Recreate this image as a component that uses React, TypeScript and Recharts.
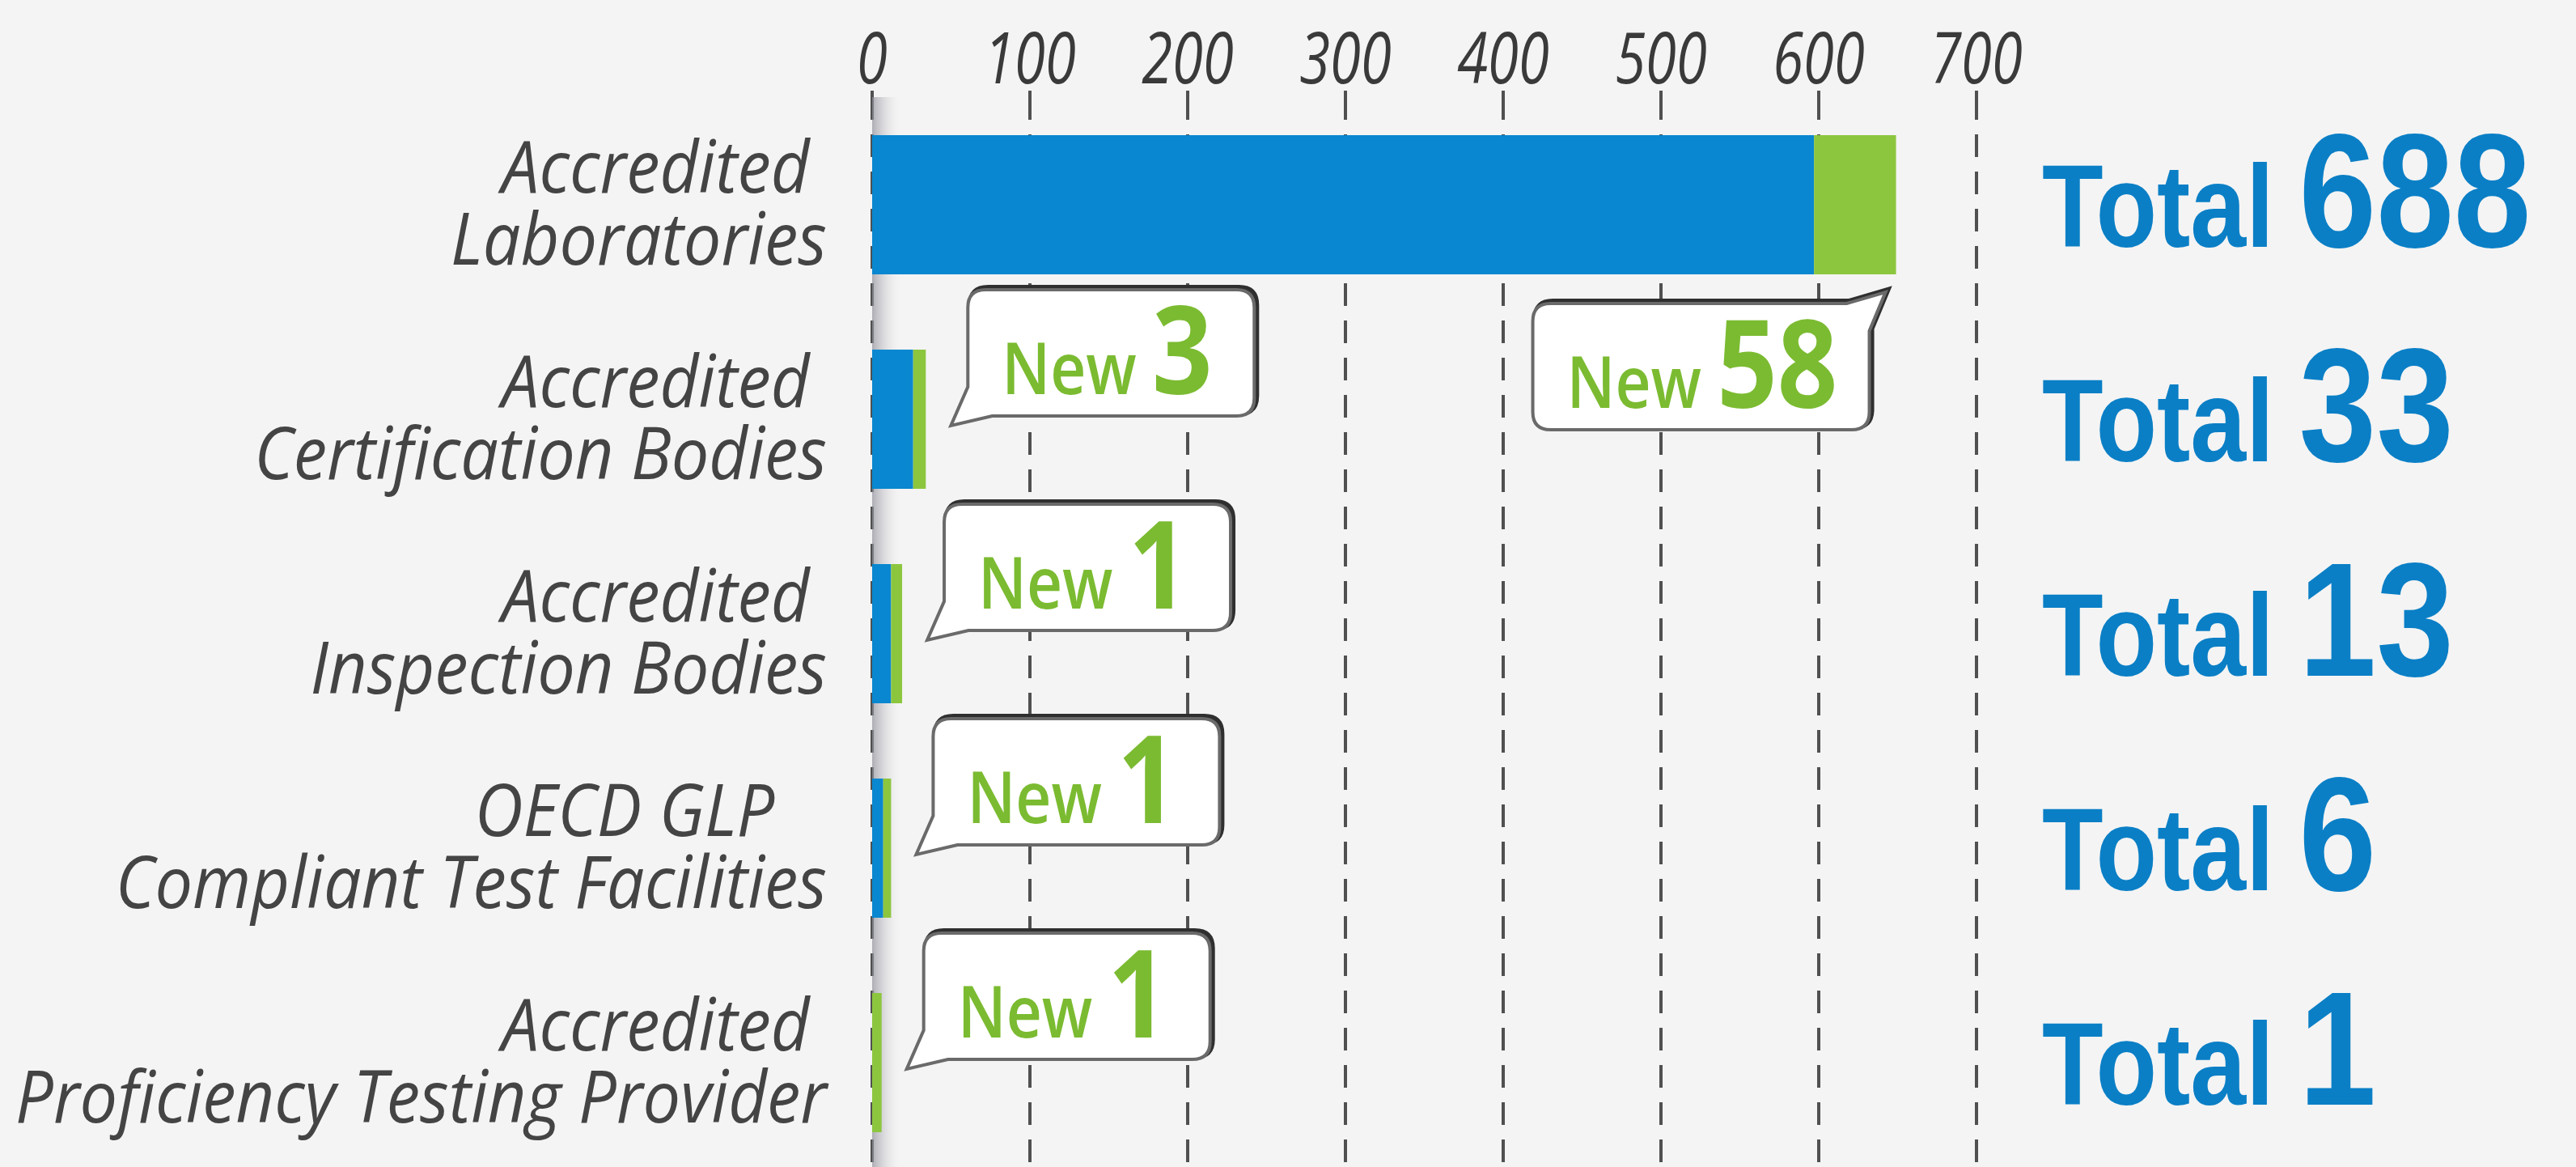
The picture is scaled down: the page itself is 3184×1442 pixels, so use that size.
import { BarChart, Bar, XAxis, YAxis, CartesianGrid, LabelList, ReferenceArea } from 'recharts';

const labelLine1 = ['Accredited\u00A0', 'Accredited\u00A0', 'Accredited\u00A0', 'OECD GLP\u00A0\u00A0\u00A0', 'Accredited\u00A0'];
const labelLine2 = [
  'Laboratories',
  'Certification Bodies',
  'Inspection Bodies',
  'Compliant Test Facilities',
  'Proficiency Testing Provider',
];
// bar lengths as drawn in the picture
const existingValues = [597, 26, 12, 7, 0];
const addedValues = [52, 8, 7, 5, 6];
// printed figures
const newLabels = [58, 3, 1, 1, 1];
const totalLabels = [688, 33, 13, 6, 1];
const xTicks = [0, 100, 200, 300, 400, 500, 600, 700];

const BLUE = '#0987d0';
const GREEN = '#8cc63f';
const TEXT_GREEN = '#7bbb31';
const TOTAL_BLUE = '#0a7fc6';

const categories = labelLine2.map((l2, i) => `${labelLine1[i].trim()} ${l2}`);

const data = categories.map((name, i) => ({
  name,
  existing: existingValues[i],
  added: addedValues[i],
  newLabel: newLabels[i],
}));

function XTick({ x, y, payload }: any) {
  return (
    <g transform={`translate(${x},${y})`}>
      <text
        transform="scale(0.78,1)"
        textAnchor="middle"
        y={-9}
        fill="#3a3a3a"
        fontFamily="'Open Sans', sans-serif"
        fontStyle="italic"
        fontSize={88}
      >
        {payload.value}
      </text>
    </g>
  );
}

function CategoryTick({ x, y, payload }: any) {
  const i = categories.indexOf(payload.value);
  return (
    <g transform={`translate(${x - 56},${y})`}>
      <text
        transform="scale(0.92,1)"
        textAnchor="end"
        fill="#444444"
        fontFamily="'Open Sans', sans-serif"
        fontStyle="italic"
        fontSize={90}
      >
        <tspan x={0} y={-15}>{labelLine1[i]}</tspan>
        <tspan x={0} y={74}>{labelLine2[i]}</tspan>
      </text>
    </g>
  );
}

function TotalTick({ x, y, payload }: any) {
  const i = categories.indexOf(payload.value);
  return (
    <g transform={`translate(${x + 81},${y + 52})`}>
      <text
        transform="scale(0.86,1)"
        textAnchor="start"
        fill={TOTAL_BLUE}
        fontFamily="'Liberation Sans', Arial, sans-serif"
        fontWeight={700}
      >
        <tspan fontSize={144}>Total</tspan>
        <tspan fontSize={200} dx={36}>{totalLabels[i]}</tspan>
      </text>
    </g>
  );
}

function renderBubble(props: any) {
  const { x, y, width, height, value, index } = props;
  const barEnd = x + width;
  const center = y + height / 2;
  const digits = String(value).length;
  const w = 292 + digits * 62;
  const h = 156;
  const r = 22;
  const flipped = index === 0;
  const L = flipped ? barEnd - 33 - w : barEnd + 52;
  const T = flipped ? center + 122 : center - 160;
  const d = flipped
    ? `M${L + r},${T} H${L + w - 28} L${L + w + 20},${T - 14} L${L + w},${T + 34} V${T + h - r} Q${L + w},${T + h} ${L + w - r},${T + h} H${L + r} Q${L},${T + h} ${L},${T + h - r} V${T + r} Q${L},${T} ${L + r},${T} Z`
    : `M${L + r},${T} H${L + w - r} Q${L + w},${T} ${L + w},${T + r} V${T + h - r} Q${L + w},${T + h} ${L + w - r},${T + h} H${L + 30} L${L - 21},${T + h + 12} L${L},${T + h - 36} V${T + r} Q${L},${T} ${L + r},${T} Z`;
  return (
    <g key={`bubble-${index}`}>
      <path d={d} transform="translate(3,-3)" fill="none" stroke="#2f2f2f" strokeWidth={6} />
      <path d={d} fill="#ffffff" stroke="#6a6a6a" strokeWidth={4} />
      <g transform={`translate(${L + 42},${T + h - 27})`}>
        <text transform="scale(0.87,1)" fill={TEXT_GREEN} fontFamily="'Open Sans', sans-serif">
          <tspan fontSize={88} fontWeight={600}>New</tspan>
          <tspan fontSize={150} fontWeight={700} dx={22}>{value}</tspan>
        </text>
      </g>
    </g>
  );
}

export default function App() {
  return (
    <div
      style={{
        position: 'absolute',
        left: 0,
        top: 0,
        width: 3184,
        height: 1442,
        overflow: 'hidden',
        background: '#f4f4f4',
      }}
    >
      <BarChart
        width={3184}
        height={1446}
        data={data}
        layout="vertical"
        margin={{ top: 10, right: 0, bottom: 1, left: 0 }}
        barCategoryGap={46}
      >
        <defs>
          <linearGradient id="fold" x1="0" y1="0" x2="1" y2="0">
            <stop offset="0" stopColor="#8f8f9a" stopOpacity={0.7} />
            <stop offset="1" stopColor="#ffffff" stopOpacity={0} />
          </linearGradient>
        </defs>
        <CartesianGrid horizontal={false} stroke="#505050" strokeWidth={4} strokeDasharray="28 18" />
        <XAxis
          type="number"
          orientation="top"
          domain={[0, 700]}
          ticks={xTicks}
          height={110}
          tick={<XTick />}
          tickSize={8}
          tickMargin={0}
          axisLine={false}
          tickLine={{ stroke: '#505050', strokeWidth: 4 }}
          interval={0}
        />
        <YAxis
          type="category"
          dataKey="name"
          width={1078}
          tick={<CategoryTick />}
          tickSize={0}
          tickMargin={0}
          axisLine={false}
          tickLine={false}
          interval={0}
        />
        <YAxis
          yAxisId="right"
          orientation="right"
          type="category"
          dataKey="name"
          width={741}
          tick={<TotalTick />}
          tickSize={0}
          tickMargin={0}
          axisLine={false}
          tickLine={false}
          interval={0}
        />
        <ReferenceArea x1={0} x2={20} fill="url(#fold)" fillOpacity={1} stroke="none" />
        <Bar dataKey="existing" stackId="a" fill={BLUE} barSize={172} isAnimationActive={false} />
        <Bar dataKey="added" stackId="a" fill={GREEN} barSize={172} isAnimationActive={false}>
          <LabelList dataKey="newLabel" content={renderBubble} />
        </Bar>
      </BarChart>
    </div>
  );
}
